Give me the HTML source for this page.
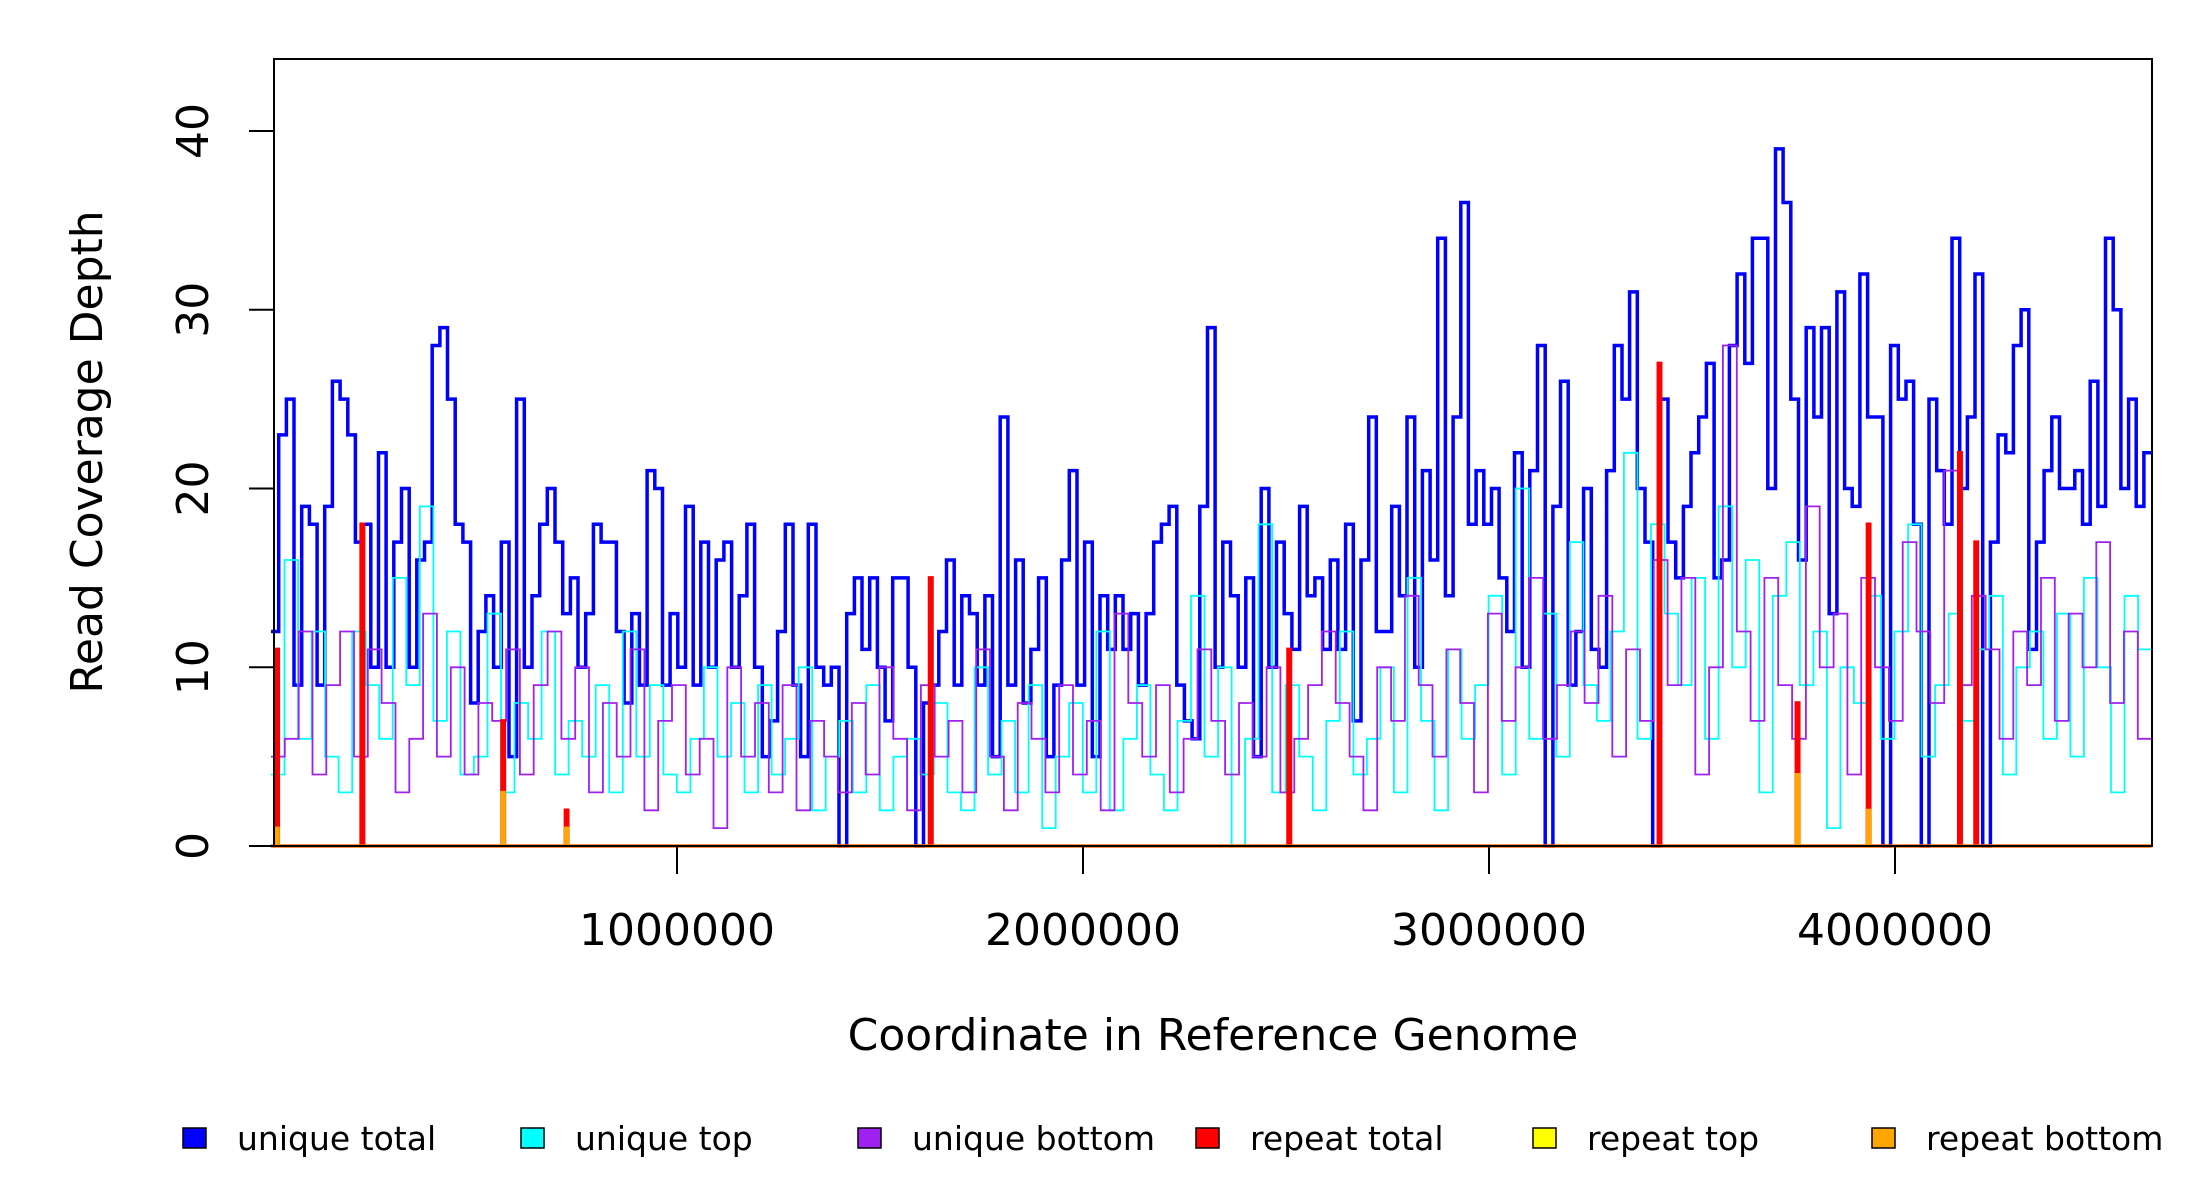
<!DOCTYPE html>
<html><head><meta charset="utf-8"><style>
html,body{margin:0;padding:0;background:#fff;}
svg{display:block;font-family:"DejaVu Sans","Liberation Sans",sans-serif;}
</style></head><body>
<svg id="chart" width="2200" height="1200" viewBox="0 0 2200 1200" xmlns="http://www.w3.org/2000/svg">
<g id="series"></g>
<rect x="274" y="59" width="1878" height="787" fill="none" stroke="#000" stroke-width="2"/>
<g id="axes"></g>
<text x="0" y="0" transform="translate(102,452) rotate(-90)" text-anchor="middle" font-size="44">Read Coverage Depth</text>
<text x="1213" y="1050" text-anchor="middle" font-size="44">Coordinate in Reference Genome</text>
<g id="legend"></g>
</svg>
<script>
const genomeLength = 4632000;
const yTicks = [0, 10, 20, 30, 40];
const xTicks = [1000000, 2000000, 3000000, 4000000];
const xTickLabels = ["1000000", "2000000", "3000000", "4000000"];
const seriesNames = ["unique total", "unique top", "unique bottom", "repeat total", "repeat top", "repeat bottom"];
const seriesColors = ["#0000ff", "#00ffff", "#a020f0", "#ff0000", "#ffff00", "#ffa500"];

const uniqueTotal = [12,23,25,9,19,18,9,19,26,25,23,17,18,10,22,10,17,20,10,16,17,28,29,25,18,17,8,12,14,10,17,5,25,10,14,18,20,17,13,15,10,13,18,17,17,12,8,13,9,21,20,9,13,10,19,9,17,10,16,17,10,14,18,10,5,7,12,18,9,5,18,10,9,10,0,13,15,11,15,10,7,15,15,10,0,8,9,12,16,9,14,13,9,14,5,24,9,16,8,11,15,5,9,16,21,9,17,5,14,11,14,11,13,9,13,17,18,19,9,7,6,19,29,10,17,14,10,15,5,20,10,17,13,11,19,14,15,11,16,11,18,7,16,24,12,12,19,14,24,10,21,16,34,14,24,36,18,21,18,20,15,12,22,10,21,28,0,19,26,9,12,20,11,10,21,28,25,31,20,17,0,25,17,15,19,22,24,27,15,16,28,32,27,34,34,20,39,36,25,16,29,24,29,13,31,20,19,32,24,24,0,28,25,26,18,0,25,21,18,34,20,24,32,0,17,23,22,28,30,11,17,21,24,20,20,21,18,26,19,34,30,20,25,19,22];
const uniqueTop = [4,16,6,12,5,3,12,9,6,15,9,19,7,12,4,5,13,3,8,6,12,4,7,5,9,3,12,5,9,4,3,6,10,5,8,3,9,4,6,10,2,5,7,3,9,2,5,6,4,8,3,2,10,4,7,3,9,1,5,8,3,12,2,6,9,4,2,7,14,5,10,0,6,18,3,9,5,2,7,12,4,6,10,3,15,7,2,11,6,9,14,4,20,6,13,5,17,9,7,12,22,6,18,13,9,15,6,19,10,16,3,14,17,9,12,1,10,8,14,6,12,18,5,9,13,7,11,14,4,10,12,6,13,5,15,10,3,14,11];
const uniqueBottom = [5,6,12,4,9,12,5,11,8,3,6,13,5,10,4,8,7,11,4,9,12,6,10,3,8,5,11,2,7,9,4,6,1,10,5,8,3,9,2,7,5,3,8,4,10,6,2,9,5,7,3,11,5,2,8,6,3,9,4,7,2,13,8,5,9,3,6,11,7,4,8,5,10,3,6,9,12,8,5,2,10,7,14,9,5,11,8,3,13,7,10,15,6,9,12,8,14,5,11,7,16,9,15,4,10,28,12,7,15,9,6,19,10,13,4,15,10,7,17,12,8,21,9,14,11,6,12,9,15,7,13,10,17,8,12,6];
const repeatPositions = [15000, 225000, 572000, 728000, 1625000, 2508000, 3420000, 3760000, 3935000, 4160000, 4200000];
const repeatTotal = [11, 18, 7, 2, 15, 11, 27, 8, 18, 22, 17];
const repeatTopVals = [1, 0, 2, 1, 0, 0, 0, 3, 1, 0, 0];
const repeatBottomVals = [1, 0, 3, 1, 0, 0, 0, 4, 2, 0, 0];

const X0 = 271, PXPERBP = 406 / 1000000, Y0 = 846, PXPERUNIT = 17.875;
const xScale = v => X0 + v * PXPERBP;
const yScale = v => Y0 - v * PXPERUNIT;
const NS = "http://www.w3.org/2000/svg";
const seriesG = document.getElementById('series');
const axesG = document.getElementById('axes');
const legendG = document.getElementById('legend');

function stepPath(vals) {
  const w = genomeLength / vals.length;
  let d = '';
  vals.forEach((v, i) => {
    const x1 = xScale(i * w), x2 = xScale((i + 1) * w), y = yScale(v);
    d += (i === 0 ? 'M' + x1.toFixed(1) + ',' + y.toFixed(1) : 'L' + x1.toFixed(1) + ',' + y.toFixed(1)) + 'L' + x2.toFixed(1) + ',' + y.toFixed(1);
  });
  return d;
}
function spikePath(pos, vals) {
  let d = 'M' + xScale(0) + ',' + yScale(0);
  const hw = 3000;
  pos.forEach((p, i) => {
    d += 'L' + xScale(p - hw).toFixed(1) + ',' + yScale(0) + 'L' + xScale(p - hw).toFixed(1) + ',' + yScale(vals[i]).toFixed(1) + 'L' + xScale(p + hw).toFixed(1) + ',' + yScale(vals[i]).toFixed(1) + 'L' + xScale(p + hw).toFixed(1) + ',' + yScale(0);
  });
  d += 'L' + xScale(genomeLength) + ',' + yScale(0);
  return d;
}
function addPath(d, color, width, name) {
  const p = document.createElementNS(NS, 'path');
  p.setAttribute('d', d);
  p.setAttribute('fill', 'none');
  p.setAttribute('stroke', color);
  p.setAttribute('stroke-width', width);
  p.setAttribute('stroke-linejoin', 'miter');
  
  
  seriesG.appendChild(p);
}
addPath(stepPath(uniqueTotal), seriesColors[0], 3.5, 'unique-total-line');
addPath(stepPath(uniqueTop), seriesColors[1], 1.8, 'unique-top-line');
addPath(stepPath(uniqueBottom), seriesColors[2], 1.8, 'unique-bottom-line');
addPath(spikePath(repeatPositions, repeatTotal), seriesColors[3], 3.5, 'repeat-total-line');
addPath(spikePath(repeatPositions, repeatTopVals), seriesColors[4], 2, 'repeat-top-line');
addPath(spikePath(repeatPositions, repeatBottomVals), seriesColors[5], 3, 'repeat-bottom-line');

yTicks.forEach(t => {
  const y = yScale(t);
  const l = document.createElementNS(NS, 'line');
  l.setAttribute('x1', 274); l.setAttribute('x2', 249); l.setAttribute('y1', y); l.setAttribute('y2', y);
  l.setAttribute('stroke', '#000'); l.setAttribute('stroke-width', 2);
  
  
  axesG.appendChild(l);
  const tx = document.createElementNS(NS, 'text');
  tx.setAttribute('transform', 'translate(208,' + y + ') rotate(-90)');
  tx.setAttribute('text-anchor', 'middle');
  tx.setAttribute('font-size', '44');
  tx.textContent = String(t);
  
  
  axesG.appendChild(tx);
});
xTicks.forEach((t, i) => {
  const x = xScale(t);
  const l = document.createElementNS(NS, 'line');
  l.setAttribute('x1', x); l.setAttribute('x2', x); l.setAttribute('y1', 846); l.setAttribute('y2', 874);
  l.setAttribute('stroke', '#000'); l.setAttribute('stroke-width', 2);
  
  
  axesG.appendChild(l);
  const tx = document.createElementNS(NS, 'text');
  tx.setAttribute('x', x); tx.setAttribute('y', 945);
  tx.setAttribute('text-anchor', 'middle');
  tx.setAttribute('font-size', '44');
  tx.textContent = xTickLabels[i];
  
  
  axesG.appendChild(tx);
});
const legendX = [183, 521, 858, 1196, 1533, 1872];
seriesNames.forEach((n, i) => {
  const r = document.createElementNS(NS, 'rect');
  r.setAttribute('x', legendX[i]); r.setAttribute('y', 1128);
  r.setAttribute('width', 23); r.setAttribute('height', 20);
  r.setAttribute('fill', seriesColors[i]); r.setAttribute('stroke', '#000'); r.setAttribute('stroke-width', 1.5);
  
  
  legendG.appendChild(r);
  const t = document.createElementNS(NS, 'text');
  t.setAttribute('x', legendX[i] + 54); t.setAttribute('y', 1150);
  t.setAttribute('font-size', '33');
  t.textContent = n;
  
  
  legendG.appendChild(t);
});
</script>
</body></html>
